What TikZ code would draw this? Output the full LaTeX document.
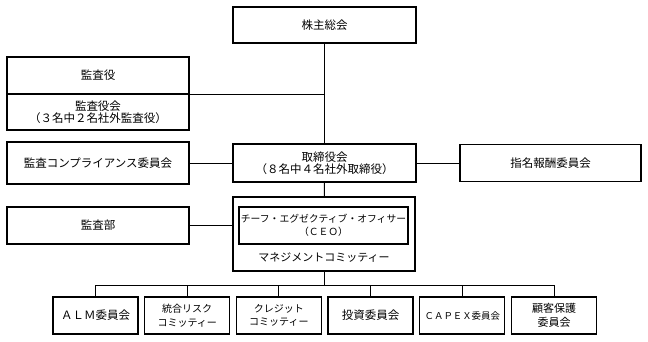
\documentclass[tikz,border=0pt]{standalone}
\usepackage{fontspec}
\setmainfont{Noto Sans CJK JP}
\usepackage{tikz}
\usetikzlibrary{positioning,calc}

\tikzset{
  orgbox/.style={draw, line width=1.3pt, align=center, inner sep=0pt,
    font=\fontsize{11.5}{12.5}\selectfont},
  orgline/.style={line width=1pt},
}

\begin{document}
\begin{tikzpicture}[x=1pt, y=-1pt]
  \useasboundingbox (0,0) rectangle (648,341);
  % ---- top: shareholders and board
  \node[orgbox, minimum width=183pt, minimum height=36pt] (soukai) at (324.5,25) {株主総会};
  \node[orgbox, minimum width=183pt, minimum height=38pt] (torishimari) at (324.5,163)
    {取締役会\\（８名中４名社外取締役）};
  % ---- left column
  \node[orgbox, minimum width=182pt, minimum height=37pt] (kansayaku) at (98,75.5) {監査役};
  \node[orgbox, minimum width=182pt, minimum height=36pt] (kansayakukai) at (98,112)
    {監査役会\\（３名中２名社外監査役）};
  \node[orgbox, minimum width=182pt, minimum height=42pt] (compliance) at (98,163)
    {監査コンプライアンス委員会};
  \node[orgbox, minimum width=182pt, minimum height=37pt] (kansabu) at (98,225.5) {監査部};
  % ---- right
  \node[orgbox, minimum width=181pt, minimum height=37pt] (shimei) at (550.5,163) {指名報酬委員会};
  % ---- management committee with CEO inside
  \node[orgbox, minimum width=182pt, minimum height=74pt] (mgmt) at (324,234) {};
  \node[orgbox, minimum width=169pt, minimum height=37pt,
    font=\fontsize{9.8}{12.5}\selectfont] (ceo) at (323.5,225.5)
    {チーフ・エグゼクティブ・オフィサー\\（ＣＥＯ）};
  \node[font=\fontsize{11}{12}\selectfont] (mgmtlabel) at (324,258) {マネジメントコミッティー};
  % ---- committees
  \foreach \i/\txt/\fs in {1/ＡＬＭ委員会/11.5, 2/統合リスク\\コミッティー/10,
      3/クレジット\\コミッティー/10, 4/投資委員会/11.5, 5/ＣＡＰＥＸ委員会/9.4,
      6/顧客保護\\委員会/11} {
    \pgfmathsetmacro\cx{95.5+91.7*(\i-1)}
    \node[orgbox, minimum width=85pt, minimum height=37pt,
      font=\fontsize{\fs}{13.5}\selectfont] (c\i) at (\cx,315.5) {\txt};
  }
  % ---- connectors
  \coordinate (bus) at (324,285);
  \draw[orgline] (soukai) -- (torishimari);
  \draw[orgline] (kansayaku.south east) -- (kansayaku.south east -| soukai);
  \draw[orgline] (compliance) -- (torishimari);
  \draw[orgline] (torishimari) -- (shimei);
  \draw[orgline] (torishimari) -- (mgmt);
  \draw[orgline] (kansabu.east) -- (kansabu.east -| mgmt.west);
  \draw[orgline] (mgmt) -- (bus);
  \draw[orgline] (c1 |- bus) -- (c6 |- bus);
  \foreach \i in {1,...,6} {
    \draw[orgline] (c\i |- bus) -- (c\i);
  }
\end{tikzpicture}
\end{document}
